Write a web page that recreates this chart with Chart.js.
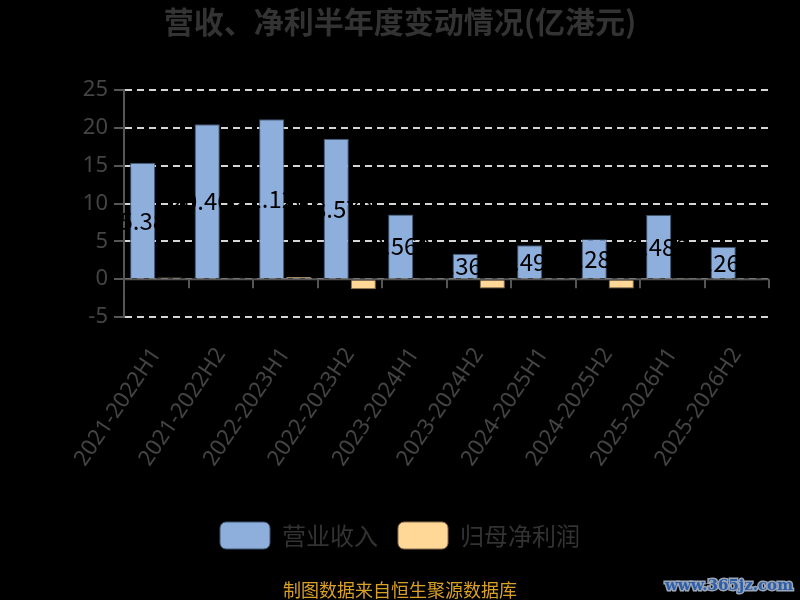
<!DOCTYPE html>
<html>
<head>
<meta charset="utf-8">
<script src="https://cdn.jsdelivr.net/npm/chart.js@4.4.1/dist/chart.umd.min.js"></script>
<style>
html,body{margin:0;padding:0;background:#000;}
#wrap{width:800px;height:600px;position:relative;}
</style>
</head>
<body>
<div id="wrap"><canvas id="c" width="800" height="600"></canvas></div>
<script>
const categories = ["2021-2022H1","2021-2022H2","2022-2023H1","2022-2023H2","2023-2024H1","2023-2024H2","2024-2025H1","2024-2025H2","2025-2026H1","2025-2026H2"];
const revenue = [15.38, 20.46, 21.12, 18.57, 8.56, 3.36, 4.49, 5.28, 8.48, 4.26];
const netProfit = [0.22, 0.2, 0.3, -1.32, 0.05, -1.24, -0.05, -1.24, 0.03, -0.1];
const seriesNames = ["营业收入", "归母净利润"];
const titleText = "营收、净利半年度变动情况(亿港元)";
const footerText = "制图数据来自恒生聚源数据库";
const watermarkText = "www.365jz.com";
const yTicks = [-5, 0, 5, 10, 15, 20, 25];

const CJK = "'Noto Sans CJK SC','Noto Sans',sans-serif";

const axisPlugin = {
  id: 'zeroAxis',
  afterDatasetsDraw(chart) {
    const ctx = chart.ctx, xs = chart.scales.x, ys = chart.scales.y, area = chart.chartArea;
    const y0 = ys.getPixelForValue(0);
    ctx.save();
    ctx.strokeStyle = '#555';
    ctx.lineWidth = 2;
    ctx.beginPath();
    ctx.moveTo(area.left, y0);
    ctx.lineTo(area.right, y0);
    for (let i = 0; i <= categories.length; i++) {
      const x = Math.round(xs.getPixelForValue(i - 0.5));
      ctx.moveTo(x, y0);
      ctx.lineTo(x, y0 + 9);
    }
    ctx.stroke();
    const meta = chart.getDatasetMeta(0);
    ctx.fillStyle = '#000';
    ctx.font = "24px " + CJK;
    ctx.textAlign = 'center';
    ctx.textBaseline = 'middle';
    meta.data.forEach((bar, i) => {
      ctx.fillText(revenue[i].toFixed(3), bar.x, (bar.y + bar.base) / 2);
    });
    ctx.restore();
  },
  afterDraw(chart) {
    const ctx = chart.ctx;
    ctx.save();
    ctx.font = "18px " + CJK;
    ctx.fillStyle = '#d9a028';
    ctx.textAlign = 'center';
    ctx.textBaseline = 'middle';
    ctx.fillText(footerText, chart.width / 2, 590);
    ctx.font = "bold 15px 'DejaVu Serif',serif";
    ctx.textAlign = 'right';
    ctx.lineWidth = 3;
    ctx.strokeStyle = '#9aa6b8';
    ctx.strokeText(watermarkText, 793, 586);
    ctx.fillStyle = '#2d5ea8';
    ctx.fillText(watermarkText, 793, 586);
    ctx.restore();
  }
};

new Chart(document.getElementById('c'), {
  type: 'bar',
  data: {
    labels: categories,
    datasets: [
      { label: seriesNames[0], data: revenue, backgroundColor: '#8eafdc', borderColor: '#3f5570', borderWidth: 1,
        categoryPercentage: 0.84, barPercentage: 0.93 },
      { label: seriesNames[1], data: netProfit, backgroundColor: '#ffd898', borderColor: '#8a7050', borderWidth: 1,
        categoryPercentage: 0.84, barPercentage: 0.93 }
    ]
  },
  options: {
    responsive: false,
    devicePixelRatio: 1,
    animation: false,
    layout: { padding: { top: 0, right: 0, bottom: 41, left: 0 } },
    plugins: {
      title: {
        display: true, text: titleText, color: '#333',
        font: { family: CJK, size: 30, weight: 'bold' },
        padding: { top: 4, bottom: 50 }
      },
      legend: {
        position: 'bottom',
        labels: {
          color: '#333', font: { family: CJK, size: 24 },
          boxWidth: 50, boxHeight: 27, padding: 20, useBorderRadius: true, borderRadius: 6
        }
      },
      tooltip: { enabled: false }
    },
    scales: {
      x: {
        grid: { display: false, drawTicks: false },
        border: { display: false },
        ticks: { color: '#444', font: { family: "'Noto Sans',sans-serif", size: 22 }, minRotation: 56, maxRotation: 56, autoSkip: false, padding: 26 },
        afterFit: (s) => { s.height = 185; }
      },
      y: {
        min: -5, max: 25,
        afterBuildTicks: (s) => { s.ticks = yTicks.map(v => ({ value: v })); },
        ticks: { color: '#444', font: { family: "'Noto Sans',sans-serif", size: 22 }, padding: 6 },
        grid: { color: 'rgba(225,225,225,0.95)', lineWidth: 2, tickColor: '#555', tickLength: 10, tickWidth: 2 },
        border: { display: true, color: '#555', width: 2, dash: [7, 5] },
        afterFit: (s) => { s.width = 124; }
      },
      yR: {
        type: 'linear', position: 'right', display: true, min: -5, max: 25,
        grid: { display: false, drawTicks: false },
        border: { display: false },
        ticks: { display: false },
        afterFit: (s) => { s.width = 31; }
      }
    }
  },
  plugins: [axisPlugin]
});
</script>
</body>
</html>
